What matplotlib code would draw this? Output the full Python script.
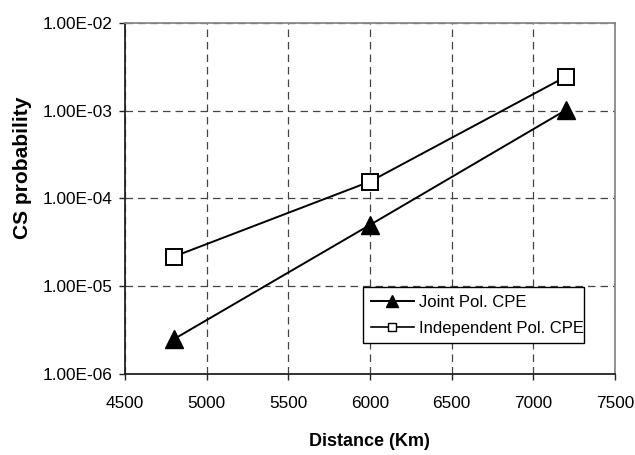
import matplotlib
matplotlib.use("Agg")
import matplotlib.pyplot as plt
from matplotlib.lines import Line2D
from matplotlib.ticker import FixedLocator, FuncFormatter
from matplotlib import font_manager

plt.rcParams['font.family'] = ['Liberation Sans', 'DejaVu Sans']

distance = [4800, 6000, 7200]
joint = [2.5e-6, 5.0e-5, 1.02e-3]
independent = [2.18e-5, 1.56e-4, 2.45e-3]
x_ticks = [4500, 5000, 5500, 6000, 6500, 7000, 7500]
y_ticks = [1e-6, 1e-5, 1e-4, 1e-3, 1e-2]
series_names = ["Joint Pol. CPE", "Independent Pol. CPE"]
x_title = "Distance (Km)"
y_title = "CS probability"

tick_font = font_manager.FontProperties(family=['Liberation Sans', 'DejaVu Sans'], size=12.4)
legend_font = font_manager.FontProperties(family=['Liberation Sans', 'DejaVu Sans'], size=12)

fig = plt.figure(figsize=(6.35, 4.55), dpi=100)
ax = fig.add_axes([125/635, 1-374/455, 490/635, 351/455])

ax.plot(distance, joint, color='black', lw=1.4, marker='^', markersize=13,
        markerfacecolor='black', markeredgecolor='black', zorder=3)
ax.plot(distance, independent, color='black', lw=1.4, marker='s', markersize=12,
        markerfacecolor='white', markeredgecolor='black', markeredgewidth=1.4, zorder=3)

ax.set_yscale('log')
ax.set_xlim(4500, 7500)
ax.set_ylim(1e-6, 1e-2)
ax.xaxis.set_major_locator(FixedLocator(x_ticks))
ax.yaxis.set_major_locator(FixedLocator(y_ticks))
ax.yaxis.set_minor_locator(FixedLocator([]))
ax.yaxis.set_major_formatter(FuncFormatter(lambda v, p: "%.2E" % v))

ax.grid(True, which='major', color='#444444', linestyle=(0, (6, 4)), lw=0.9)
ax.set_axisbelow(True)

for s in ['top', 'right']:
    ax.spines[s].set_color('#888888')
    ax.spines[s].set_linewidth(1.3)
for s in ['left', 'bottom']:
    ax.spines[s].set_color('#222222')
    ax.spines[s].set_linewidth(1.3)

ax.tick_params(axis='both', direction='out', length=4, width=1, color='#222222')
ax.tick_params(axis='y', pad=5)
ax.tick_params(axis='x', pad=12)
for lab in ax.get_xticklabels() + ax.get_yticklabels():
    lab.set_fontproperties(tick_font)

fig.text(369/635, 1-442/455, x_title, fontsize=13, fontweight='bold',
         ha='center', va='center')
fig.text(23/635, 1-168/455, y_title, fontsize=15, fontweight='bold',
         ha='center', va='center', rotation=90)

handles = [
    Line2D([], [], color='black', lw=1.4, marker='^', markersize=9,
           markerfacecolor='black', markeredgecolor='black'),
    Line2D([], [], color='black', lw=1.2, marker='s', markersize=6,
           markerfacecolor='white', markeredgecolor='black'),
]
leg = ax.legend(handles, series_names, loc='lower left',
                bbox_to_anchor=(0.486, 0.088, 0.451, 0.205), mode='expand',
                prop=legend_font, frameon=True, fancybox=False, shadow=False,
                handlelength=2.6, handletextpad=0.3, borderpad=0.45,
                labelspacing=0.65, borderaxespad=0)
leg.get_frame().set_edgecolor('black')
leg.get_frame().set_linewidth(1.0)
leg.get_frame().set_alpha(1)

fig.savefig("out.png", dpi=100)
